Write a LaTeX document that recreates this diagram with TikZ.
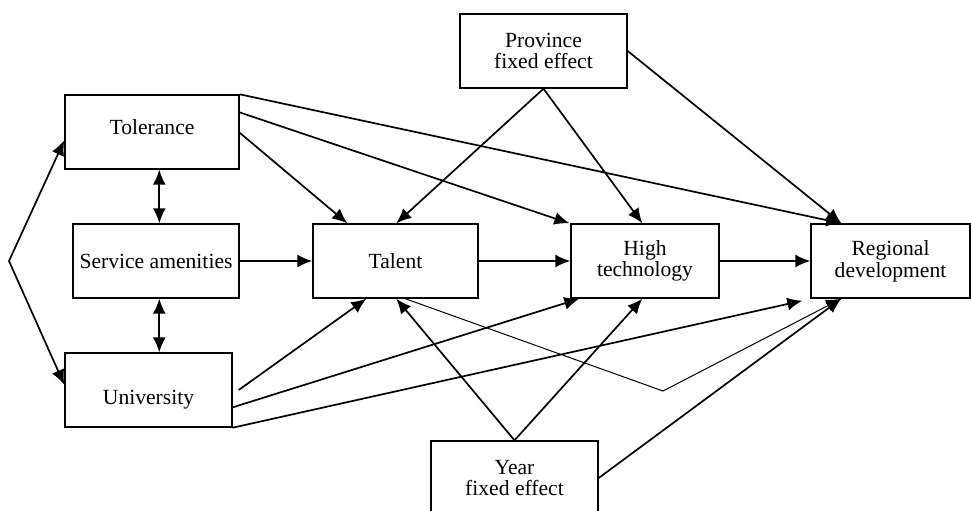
\documentclass[tikz,border=0pt]{standalone}
\usepackage{fontspec}
\setmainfont{Liberation Serif}
\usetikzlibrary{arrows.meta,calc}
\begin{document}
\begin{tikzpicture}[x=0.5pt,y=-0.5pt,
  box/.style={draw,line width=0.7pt,rectangle,minimum height=37pt,inner sep=0pt,align=center,
    font=\fontsize{10.8}{10.8}\selectfont},
  arr/.style={line width=0.85pt,-{Latex[length=7.5pt,width=6.5pt]}},
  darr/.style={line width=0.85pt,{Latex[length=7.5pt,width=6.5pt]}-{Latex[length=7.5pt,width=6.5pt]}},
  thinarr/.style={line width=0.5pt,-{Latex[length=7.5pt,width=6.5pt]}}]
\useasboundingbox (0,0) rectangle (971,510);
\node[box,minimum width=87pt] (tol) at (152,132) {};
\node[font=\fontsize{10.8}{10.8}\selectfont] (toltxt) at (152,127) {Tolerance};
\node[box,minimum width=83pt] (svc) at (156,261) {Service amenities};
\node[box,minimum width=83.5pt] (uni) at (148.5,390) {};
\node[font=\fontsize{10.8}{10.8}\selectfont] (unitxt) at (148.5,400) {University};
\node[box,minimum width=82.5pt] (tal) at (395.5,261) {Talent};
\node[box,minimum width=74pt] (ht) at (645,261) {High\\technology};
\node[box,minimum width=79.5pt] (reg) at (890.5,261) {Regional\\development};
\node[box,minimum width=83.5pt] (prov) at (543.5,51) {Province\\fixed effect};
\node[box,minimum width=83.5pt] (year) at (514.5,478) {Year\\fixed effect};
\coordinate (lv) at (9,261);
% left bracket
\draw[darr] ($(tol.north west)!0.61!(tol.south west)$) -- (lv) -- ($(uni.north west)!0.43!(uni.south west)$);
% vertical double arrows
\draw[darr] ($(tol.south west)+(95,0)$) -- ($(svc.north west)+(87,0)$);
\draw[darr] ($(svc.south west)+(87,0)$) -- ($(uni.north west)+(95,0)$);
% main chain
\draw[arr] (svc.east) -- (tal.west);
\draw[arr] (tal.east) -- (ht.west);
\draw[arr] (ht.east) -- (reg.west);
% tolerance
\draw[arr] (tol.north east) -- ($(reg.north west)+(31,0)$);
\draw[arr] ($(tol.north east)!0.24!(tol.south east)$) -- ($(ht.north west)+(-1,0)$);
\draw[arr] ($(tol.north east)!0.51!(tol.south east)$) -- ($(tal.north west)+(35,0)$);
% province
\draw[arr] (prov.south) -- ($(tal.north west)+(84,0)$);
\draw[arr] (prov.south) -- ($(ht.north west)+(72,0)$);
\draw[arr] (prov.east) -- ($(reg.north west)+(31,0)$);
% year
\draw[arr] (year.north) -- ($(tal.south west)+(84,0)$);
\draw[arr] (year.north) -- ($(ht.south west)+(72,0)$);
\draw[arr] (year.east) -- ($(reg.south west)+(31,0)$);
% university
\draw[arr] ($(uni.east)+(6,0)$) -- ($(tal.south west)+(54,0)$);
\draw[arr] ($(uni.north east)!0.73!(uni.south east)$) -- ($(ht.south west)+(9,0)$);
\draw[arr] (uni.south east) -- ($(reg.south west)+(-8,2)$);
% talent to regional via bend
\coordinate (bend) at (663,391);
\draw[thinarr] ($(tal.south west)+(93,0)$) -- (bend) -- ($(reg.south west)+(31,0)$);
\end{tikzpicture}
\end{document}
